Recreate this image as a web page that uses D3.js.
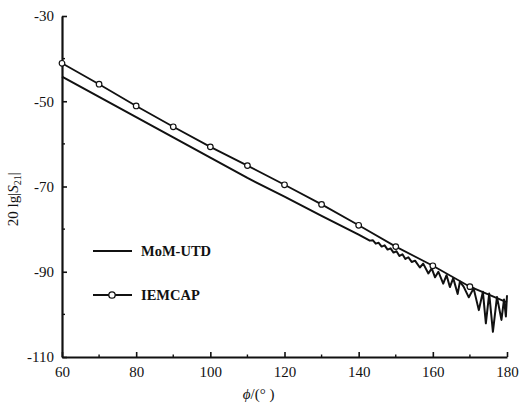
<!DOCTYPE html>
<html>
<head>
<meta charset="utf-8">
<script src="https://cdn.jsdelivr.net/npm/d3@7"></script>
<style>
    body { margin: 0; background: #fff; }
    svg { display: block; }
    text { font-family: "Liberation Serif", "Times New Roman", serif; fill: #111; }
</style>
</head>
<body>
<script>
// Chart values
var yTicks = [-30, -50, -70, -90, -110];
var yMinor = [-40, -60, -80, -100];
var xTicks = [60, 80, 100, 120, 140, 160, 180];
var xMinor = [70, 90, 110, 130, 150, 170];

// IEMCAP: straight line with open circles every 10 degrees
var iemAngle = [60, 70, 80, 90, 100, 110, 120, 130, 140, 150, 160, 170, 180];
var iemValue = [-41.1, -46.0, -51.1, -56.0, -60.7, -65.1, -69.6, -74.2,
                -79.1, -84.1, -88.6, -93.5, -97.2];
var iemMarked = 12; // no circle at the 180 end

// MoM-UTD: smooth until ~143 degrees, then oscillates
var momAngle = [60, 70, 80, 90, 100, 110, 120, 130, 140, 143,
                143.8, 144.6, 145.4, 146.2, 147, 147.8, 148.6, 149.4, 150.2,
                151, 151.8, 152.6, 153.4, 154.3, 155.2, 156.5, 157.4, 158.8,
                159.7, 160.6, 161.5, 162.8, 163.7, 164.6, 165.5, 166.7, 167.3,
                168.3, 169.7, 171.0, 172.4, 173.5, 174.3, 175.2, 176.2, 177.3,
                178.5, 179.2, 179.7, 180];
var momValue = [-44.2, -49.0, -53.7, -58.5, -63.2, -68.0, -72.4, -76.9,
                -81.3, -82.7,
                -82.6, -83.4, -83.2, -84.1, -83.8, -84.8, -84.5, -85.5, -85.2,
                -86.3, -85.9, -87.0, -86.6, -87.7, -87.4, -89.0, -88.1, -90.4,
                -89.2, -91.3, -90.0, -92.8, -90.8, -93.6, -91.5, -95.2, -92.3,
                -93.5, -96.0, -93.9, -99.0, -94.7, -102.1, -95.1, -104.1, -95.9,
                -101.3, -96.5, -100.5, -95.5];

var margin = {top: 16, right: 17, bottom: 51, left: 62},
    width = 524 - margin.left - margin.right,
    height = 408 - margin.top - margin.bottom;

var svg = d3.select("body").append("svg")
    .attr("width", 524)
    .attr("height", 408)
    .append("g")
    .attr("transform", "translate(" + margin.left + "," + margin.top + ")");

var xScale = d3.scaleLinear().domain([60, 180]).range([0, width]);
var yScale = d3.scaleLinear().domain([-110, -30]).range([height, 0]);

// Axes: ticks point inward, labels drawn by the axis generator
var xAxis = d3.axisBottom(xScale).tickValues(xTicks)
    .tickSizeInner(-5).tickSizeOuter(0).tickPadding(9);
var yAxis = d3.axisLeft(yScale).tickValues(yTicks)
    .tickSizeInner(-5).tickSizeOuter(0).tickPadding(8)
    .tickFormat(function(d) { return d; });

var gx = svg.append("g")
    .attr("class", "x axis")
    .attr("transform", "translate(0," + height + ")")
    .call(xAxis);
var gy = svg.append("g")
    .attr("class", "y axis")
    .call(yAxis);

[gx, gy].forEach(function(g) {
    g.select(".domain").attr("stroke", "#111").attr("stroke-width", 2.2);
    g.selectAll(".tick line").attr("stroke", "#111").attr("stroke-width", 1.6);
    g.selectAll(".tick text")
        .attr("font-family", "Liberation Serif, serif")
        .attr("font-size", "15px")
        .attr("fill", "#111");
});

// Minor ticks
svg.selectAll("line.xminor")
    .data(xMinor)
    .enter().append("line")
    .attr("class", "xminor")
    .attr("x1", function(d) { return xScale(d); })
    .attr("x2", function(d) { return xScale(d); })
    .attr("y1", height)
    .attr("y2", height - 2.5)
    .attr("stroke", "#111")
    .attr("stroke-width", 1.4);

svg.selectAll("line.yminor")
    .data(yMinor)
    .enter().append("line")
    .attr("class", "yminor")
    .attr("x1", 0)
    .attr("x2", 3)
    .attr("y1", function(d) { return yScale(d); })
    .attr("y2", function(d) { return yScale(d); })
    .attr("stroke", "#111")
    .attr("stroke-width", 1.4);

var line = d3.line()
    .x(function(d) { return xScale(d[0]); })
    .y(function(d) { return yScale(d[1]); });

var iemData = d3.zip(iemAngle, iemValue);
var momData = d3.zip(momAngle, momValue);

svg.append("path")
    .datum(momData)
    .attr("d", line)
    .attr("fill", "none")
    .attr("stroke", "#111")
    .attr("stroke-width", 2)
    .attr("stroke-linejoin", "round");

svg.append("path")
    .datum(iemData)
    .attr("d", line)
    .attr("fill", "none")
    .attr("stroke", "#111")
    .attr("stroke-width", 1.8);

svg.selectAll("circle.iem")
    .data(iemData.slice(0, iemMarked))
    .enter().append("circle")
    .attr("class", "iem")
    .attr("cx", function(d) { return xScale(d[0]); })
    .attr("cy", function(d) { return yScale(d[1]); })
    .attr("r", 2.8)
    .attr("fill", "#fff")
    .attr("stroke", "#111")
    .attr("stroke-width", 1.2);

// Legend, inside the plot at lower left
var legend = svg.append("g").attr("transform", "translate(31,235)");
legend.append("line")
    .attr("x1", 0).attr("x2", 39).attr("y1", 0).attr("y2", 0)
    .attr("stroke", "#111").attr("stroke-width", 2);
legend.append("text")
    .attr("x", 48).attr("y", 5)
    .attr("font-size", "14.5px").attr("font-weight", "bold")
    .text("MoM-UTD");
legend.append("line")
    .attr("x1", 0).attr("x2", 39).attr("y1", 44).attr("y2", 44)
    .attr("stroke", "#111").attr("stroke-width", 1.8);
legend.append("circle")
    .attr("cx", 19).attr("cy", 44).attr("r", 3.2)
    .attr("fill", "#fff").attr("stroke", "#111").attr("stroke-width", 1.3);
legend.append("text")
    .attr("x", 48).attr("y", 49)
    .attr("font-size", "14.5px").attr("font-weight", "bold")
    .text("IEMCAP");

// Axis titles
var yLabel = svg.append("text")
    .attr("text-anchor", "middle")
    .attr("transform", "translate(-44," + (yScale(-73)) + ")rotate(-90)")
    .attr("font-size", "15px");
yLabel.append("tspan").text("20 lg|");
yLabel.append("tspan").attr("font-style", "italic").text("S");
yLabel.append("tspan").attr("font-size", "10px").attr("dy", 3).text("21");
yLabel.append("tspan").attr("dy", -3).text("|");

var xLabel = svg.append("text")
    .attr("text-anchor", "middle")
    .attr("x", xScale(113))
    .attr("y", height + 42)
    .attr("font-size", "15px");
xLabel.append("tspan").attr("font-style", "italic").text("\u03d5");
xLabel.append("tspan").text("/(\u00b0  )");
</script>
</body>
</html>
